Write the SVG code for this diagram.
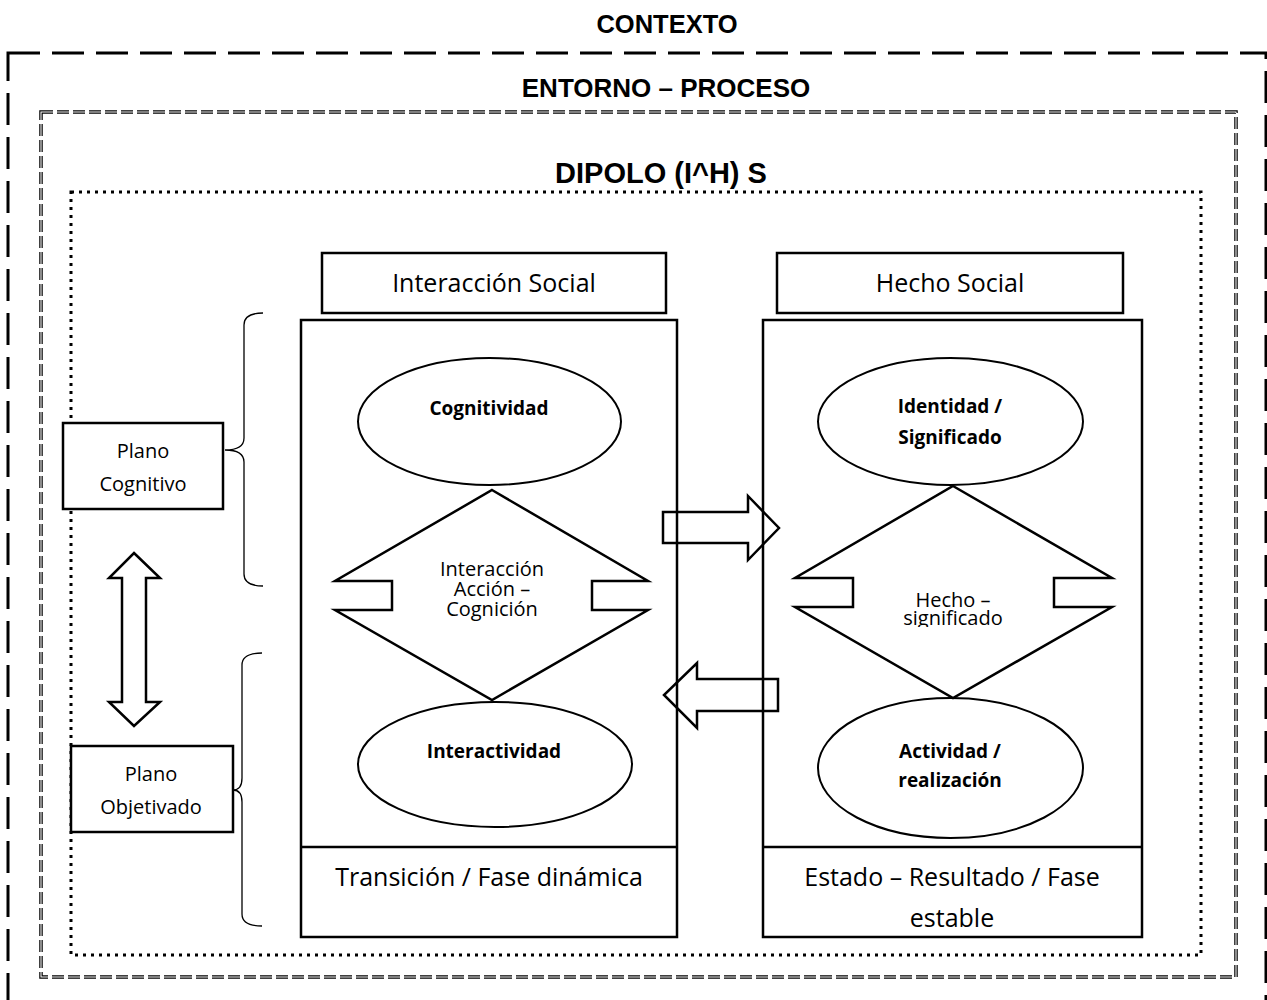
<svg xmlns="http://www.w3.org/2000/svg" width="1267" height="1000" viewBox="0 0 1267 1000">
<style>
.title{font-family:"Liberation Sans",Arial,sans-serif;font-weight:bold;fill:#000;text-anchor:middle}
.t{font-family:"Open Sans","Noto Sans",sans-serif;fill:#000;text-anchor:middle}
.b{font-family:"Open Sans","Noto Sans",sans-serif;font-weight:bold;fill:#000;text-anchor:middle}
.box{fill:none;stroke:#000;stroke-width:2.5}
.wbox{fill:#fff;stroke:#000;stroke-width:2.5}
.ell{fill:none;stroke:#000;stroke-width:2}
.arrow{fill:none;stroke:#000;stroke-width:2.5;stroke-linejoin:miter}
.brace{fill:none;stroke:#000;stroke-width:1.3}
</style>
<defs>
<clipPath id="clipHS"><rect x="880" y="560" width="150" height="67"/></clipPath>
</defs>
<rect width="1267" height="1000" fill="#fff"/>
<g id="frames">
<rect x="8" y="53" width="1258" height="1000" fill="none" stroke="#000" stroke-width="3" stroke-dasharray="32 12"/>
<rect x="41" y="112" width="1195" height="865" fill="none" stroke="#000" stroke-width="3.5" stroke-dasharray="12 4"/>
<rect x="41" y="112" width="1195" height="865" fill="none" stroke="#fff" stroke-width="1.1" stroke-dasharray="12 4"/>
<rect x="71" y="192" width="1130" height="763" fill="none" stroke="#000" stroke-width="3" stroke-dasharray="3 5"/>
<text class="title" x="667" y="33" font-size="25.5">CONTEXTO</text>
<text class="title" x="666" y="97" font-size="26">ENTORNO – PROCESO</text>
<text class="title" x="661" y="183" font-size="29">DIPOLO (I^H) S</text>
</g>
<g id="interaccion-social-header">
<rect class="box" x="322" y="253" width="344" height="60"/>
<text class="t" x="494" y="292" font-size="25">Interacción Social</text>
</g>
<g id="interaccion-box">
<rect class="box" x="301" y="320" width="376" height="617"/>
<line x1="301" y1="847" x2="677" y2="847" stroke="#000" stroke-width="2.5"/>
<text class="t" x="489" y="886" font-size="25">Transición / Fase dinámica</text>
</g>
<g id="cognitividad">
<ellipse class="ell" cx="489.5" cy="421.5" rx="131.5" ry="63.5"/>
<text class="b" x="489" y="415" font-size="19">Cognitividad</text>
</g>
<g id="interaccion-accion">
<polygon class="box" points="492,490 648,581 592,581 592,610 648,610 492,700 335,610 392,610 392,581 335,581"/>
<text class="t" x="492" y="576" font-size="20">Interacción</text>
<text class="t" x="492" y="596" font-size="20">Acción –</text>
<text class="t" x="492" y="616" font-size="20">Cognición</text>
</g>
<g id="interactividad">
<ellipse class="ell" cx="495" cy="764.5" rx="137" ry="62.5"/>
<text class="b" x="494" y="758" font-size="19">Interactividad</text>
</g>
<g id="hecho-social-header">
<rect class="box" x="777" y="253" width="346" height="60"/>
<text class="t" x="950" y="292" font-size="25">Hecho Social</text>
</g>
<g id="hecho-box">
<rect class="box" x="763" y="320" width="379" height="617"/>
<line x1="763" y1="847" x2="1142" y2="847" stroke="#000" stroke-width="2.5"/>
<text class="t" x="952" y="886" font-size="25">Estado – Resultado / Fase</text>
<text class="t" x="952" y="927" font-size="25">estable</text>
</g>
<g id="identidad">
<ellipse class="ell" cx="950.5" cy="421.5" rx="132.5" ry="63.5"/>
<text class="b" x="950" y="413" font-size="19">Identidad /</text>
<text class="b" x="950" y="444" font-size="19">Significado</text>
</g>
<g id="hecho-significado">
<polygon class="box" points="953,486 1112,578 1054,578 1054,607 1112,607 953,698 795,607 853,607 853,578 795,578"/>
<g clip-path="url(#clipHS)">
<text class="t" x="953" y="607" font-size="20">Hecho –</text>
<text class="t" x="953" y="625" font-size="20">significado</text>
</g>
</g>
<g id="actividad">
<ellipse class="ell" cx="950.5" cy="768" rx="132.5" ry="70"/>
<text class="b" x="950" y="758" font-size="19">Actividad /</text>
<text class="b" x="950" y="787" font-size="19">realización</text>
</g>
<g id="plano-cognitivo">
<rect class="wbox" x="63" y="423" width="160" height="86"/>
<text class="t" x="143" y="458" font-size="20">Plano</text>
<text class="t" x="143" y="491" font-size="20">Cognitivo</text>
</g>
<g id="plano-objetivado">
<rect class="wbox" x="71" y="746" width="162" height="86"/>
<text class="t" x="151" y="781" font-size="20">Plano</text>
<text class="t" x="151" y="814" font-size="20">Objetivado</text>
</g>
<g id="connectors">
<polygon class="arrow" points="663,512 748,512 748,496 779,528 748,560 748,543 663,543"/>
<polygon class="arrow" points="778,679 697,679 697,663 664,695 697,728 697,711 778,711"/>
<polygon class="arrow" points="134,553 160,578 146,578 146,702 160,702 134,726 109,702 122,702 122,578 109,578"/>
<path class="brace" d="M263,313 Q244,313 244,325 L244,438 Q244,450 225,450 Q244,450 244,462 L244,574 Q244,586 263,586"/>
<path class="brace" d="M262,653 Q242,653 242,665 L242,778 Q242,790 233,790 Q242,790 242,802 L242,914 Q242,926 262,926"/>
</g>
</svg>
